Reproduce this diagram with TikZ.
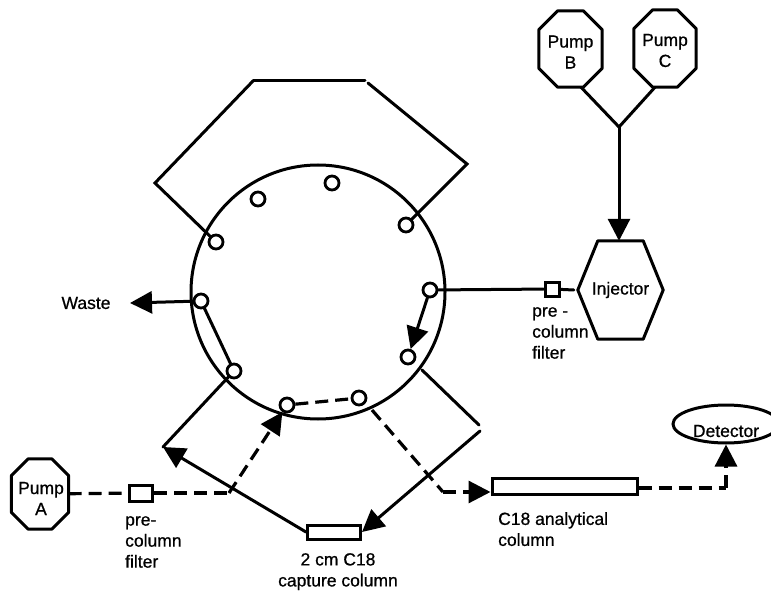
\documentclass[tikz,border=0pt]{standalone}
\usepackage{fontspec}
\setmainfont[FakeBold=0.8]{Liberation Sans}
\usetikzlibrary{arrows.meta,shapes.geometric,calc}
\newcommand{\cutbox}[3]{%
  \draw[line,line join=round]
    ($(#1.north west)+(#2,0)$) -- ($(#1.north east)+(-#2,0)$) --
    ($(#1.north east)+(0,#3)$) -- ($(#1.south east)+(0,-#3)$) --
    ($(#1.south east)+(-#2,0)$) -- ($(#1.south west)+(#2,0)$) --
    ($(#1.south west)+(0,-#3)$) -- ($(#1.north west)+(0,#3)$) -- cycle;}
\tikzset{
  x=1pt,y=-1pt,
  every node/.style={font=\fontsize{17.5}{21}\selectfont},
  line/.style={line width=3pt,line cap=round,black},
  dash line/.style={line width=3.2pt,line cap=butt,black,dash pattern=on 13pt off 7pt},
  arrowed/.style={-{Triangle[length=22pt,width=22pt]}},
  port/.style={circle,draw,line width=2.8pt,fill=white,minimum size=14pt,inner sep=0pt},
  pumpbox/.style={rectangle,inner sep=0pt},
  pumptext/.style={inner sep=0pt,align=center},
  column/.style={rectangle,draw,line width=3pt,inner sep=0pt,fill=white},
  caption/.style={align=left,inner sep=0pt,anchor=north west},
}
\begin{document}
\begin{tikzpicture}
\useasboundingbox (0,0) rectangle (771,596);
% valve body and ports
\node[circle,draw,line width=3pt,minimum size=254pt,inner sep=0pt] (valve) at (318,292) {};
\node[port] (p1) at (216,242) {};
\node[port] (p2) at (258,199) {};
\node[port] (p3) at (332,183) {};
\node[port] (p4) at (406,225) {};
\node[port] (p5) at (430,290) {};
\node[port] (p6) at (408,357) {};
\node[port] (p7) at (359,398) {};
\node[port] (p8) at (287,405) {};
\node[port] (p9) at (234,371) {};
\node[port] (p10) at (201,301) {};
% pumps
\node[pumpbox,minimum width=63pt,minimum height=76pt] (pumpB) at (570.5,49) {};
\node[pumpbox,minimum width=62pt,minimum height=77pt] (pumpC) at (665,48.5) {};
\node[pumpbox,minimum width=57pt,minimum height=70pt] (pumpA) at (40,494) {};
\node[pumpbox,minimum width=85pt,minimum height=98pt] (injector) at (620.5,290) {Injector};
\node[pumptext] (pumpBtext) at (570.5,52) {Pump\\B};
\node[pumptext] (pumpCtext) at (665,50.5) {Pump\\C};
\node[pumptext] (pumpAtext) at (41,498.5) {Pump\\A};
\cutbox{pumpB}{19}{19}
\cutbox{pumpC}{19}{19}
\cutbox{pumpA}{17}{17}
\draw[line,line join=round] (injector.west) -- ($(injector.north west)+(20,0)$) -- ($(injector.north east)+(-20,0)$) -- (injector.east) -- ($(injector.south east)+(-20,0)$) -- ($(injector.south west)+(20,0)$) -- cycle;
\node[ellipse,draw,line width=3pt,minimum width=106pt,minimum height=38pt,inner sep=0pt] (detector) at (726,424) {};
\node[inner sep=0pt] (detectorlabel) at (726,431) {Detector};
% columns and filters
\node[column,minimum width=14pt,minimum height=14pt] (filterR) at (552,289) {};
\node[column,minimum width=23pt,minimum height=16pt] (filterA) at (141,493) {};
\node[column,minimum width=53pt,minimum height=14pt] (capture) at (334,532) {};
\node[column,minimum width=145pt,minimum height=16pt] (analytical) at (564.5,486) {};
% free ends
\coordinate (tl) at (155,183);
\coordinate (tt) at (253,81);
\coordinate (tm) at (365,81);
\coordinate (tn) at (368,83);
\coordinate (tr) at (467,164);
\coordinate (ll) at (163,447);
\coordinate (rs) at (422,370);
\coordinate (re) at (479,425);
\coordinate (rf) at (480,431);
\coordinate (tee) at (619,127);
\coordinate (junA) at (229,493);
\coordinate (crossA) at (372,410);
\coordinate (bend) at (443,492);
\coordinate (wastetip) at (130,303);
\coordinate (detbend) at (726,488);
% solid connectors
\draw[line] (p1) -- (tl) -- (tt);
\draw[line] (tt) -- (tm);
\draw[line] (tn) -- (tr) -- (p4);
\draw[line] (p9) -- (ll);
\draw[line,arrowed] (capture.west) -- (ll);
\draw[line] (rs) -- (re);
\draw[line,arrowed] (rf) -- (capture.east);
\draw[line,arrowed] (p10) -- (wastetip);
\draw[line] (p10) -- (p9);
\draw[line,arrowed] (p5) -- (p6);
\draw[line] (p5) -- (filterR);
\draw[line] (filterR) -- ($(injector.west)+(-4,0)$);
\draw[line] ($(pumpB.south)+(10.5,0)$) -- (tee);
\draw[line] ($(pumpC.south)+(-10,0)$) -- (tee);
\draw[line,arrowed] (tee) -- (injector.north -| tee);
% dashed connectors
\draw[dash line] (pumpA) -- (filterA);
\draw[dash line] (filterA) -- (junA);
\draw[dash line,arrowed] (junA) -- (p8);
\draw[dash line] (p8) -- (p7);
\draw[dash line] (crossA) -- (bend);
\draw[dash line,arrowed] (bend) -- (analytical.west |- bend);
\draw[dash line] (analytical.east |- detbend) -- (detbend);
\draw[dash line,arrowed] (detbend) -- (detector.south);
% labels
\node[inner sep=0pt] (wastelabel) at (86,303) {Waste};
\node[caption] (l1) at (125,516) {pre-\\column\\filter};
\node[caption,align=center,anchor=north] (l2) at (338,553) {2 cm C18\\capture column};
\node[caption] (l3) at (532,307) {pre -\\column\\filter};
\node[caption] (l4) at (498,512) {C18 analytical\\column};
\end{tikzpicture}
\end{document}
